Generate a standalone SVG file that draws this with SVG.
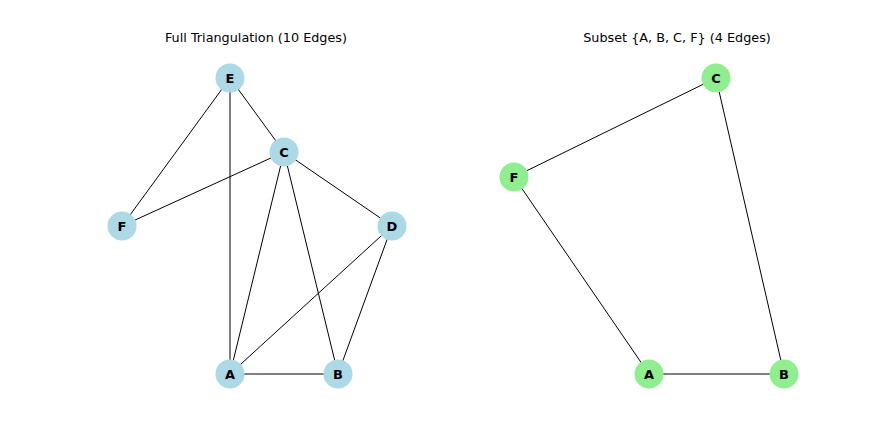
<svg xmlns="http://www.w3.org/2000/svg" width="894" height="439" viewBox="0 0 894 439">
<style>
.title{font-family:"DejaVu Sans",sans-serif;font-size:12.8px;fill:#000;text-anchor:middle}
.lbl{font-family:"DejaVu Sans",sans-serif;font-size:13px;font-weight:bold;fill:#000;text-anchor:middle;dominant-baseline:central}
.edge{stroke:#000;stroke-width:1;fill:none}
.blue{fill:#ADD8E6}
.green{fill:#90EE90}
</style>
<rect width="894" height="439" fill="#fff"/>
<text class="title" x="256" y="42">Full Triangulation (10 Edges)</text>
<text class="title" x="677" y="42">Subset {A, B, C, F} (4 Edges)</text>
<g id="connectors">
<line class="edge" x1="230" y1="78" x2="284" y2="152"/>
<line class="edge" x1="230" y1="78" x2="122" y2="226"/>
<line class="edge" x1="230" y1="78" x2="230" y2="374"/>
<line class="edge" x1="284" y1="152" x2="122" y2="226"/>
<line class="edge" x1="284" y1="152" x2="392" y2="226"/>
<line class="edge" x1="284" y1="152" x2="230" y2="374"/>
<line class="edge" x1="284" y1="152" x2="338" y2="374"/>
<line class="edge" x1="392" y1="226" x2="230" y2="374"/>
<line class="edge" x1="392" y1="226" x2="338" y2="374"/>
<line class="edge" x1="230" y1="374" x2="338" y2="374"/>
<line class="edge" x1="716" y1="78" x2="514" y2="177"/>
<line class="edge" x1="716" y1="78" x2="784" y2="374"/>
<line class="edge" x1="514" y1="177" x2="649" y2="374"/>
<line class="edge" x1="649" y1="374" x2="784" y2="374"/>
</g>
<g id="L-E"><circle class="blue" cx="230" cy="78" r="14.5"/><text class="lbl" x="230" y="78">E</text></g>
<g id="L-C"><circle class="blue" cx="284" cy="152" r="14.5"/><text class="lbl" x="284" y="152">C</text></g>
<g id="L-F"><circle class="blue" cx="122" cy="226" r="14.5"/><text class="lbl" x="122" y="226">F</text></g>
<g id="L-D"><circle class="blue" cx="392" cy="226" r="14.5"/><text class="lbl" x="392" y="226">D</text></g>
<g id="L-A"><circle class="blue" cx="230" cy="374" r="14.5"/><text class="lbl" x="230" y="374">A</text></g>
<g id="L-B"><circle class="blue" cx="338" cy="374" r="14.5"/><text class="lbl" x="338" y="374">B</text></g>
<g id="R-C"><circle class="green" cx="716" cy="78" r="14.5"/><text class="lbl" x="716" y="78">C</text></g>
<g id="R-F"><circle class="green" cx="514" cy="177" r="14.5"/><text class="lbl" x="514" y="177">F</text></g>
<g id="R-A"><circle class="green" cx="649" cy="374" r="14.5"/><text class="lbl" x="649" y="374">A</text></g>
<g id="R-B"><circle class="green" cx="784" cy="374" r="14.5"/><text class="lbl" x="784" y="374">B</text></g>
</svg>
